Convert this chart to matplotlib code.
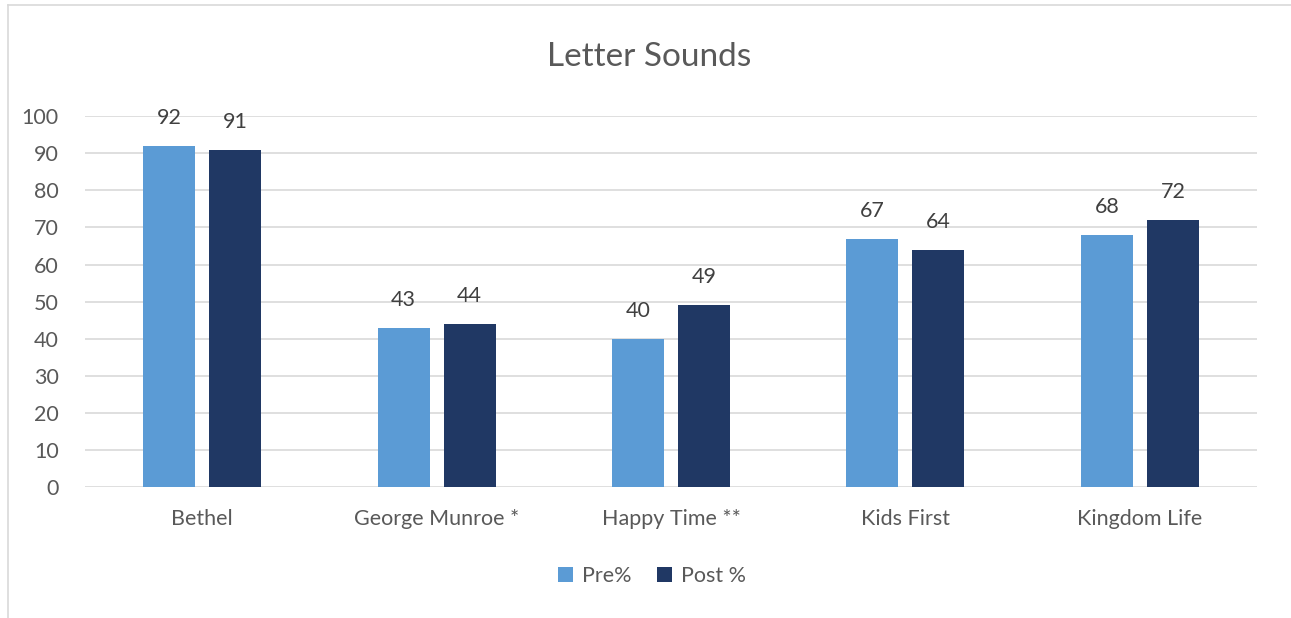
import numpy as np
import matplotlib.pyplot as plt
from matplotlib.lines import Line2D

# --- datos ---
escuelas = ['Bethel', 'George Munroe *', 'Happy Time **', 'Kids First', 'Kingdom Life']
pre = [92, 43, 40, 67, 68]
post = [91, 44, 49, 64, 72]
etiquetas = ['Pre%', 'Post %']

plt.rcParams['font.family'] = ['Lato', 'DejaVu Sans']
gris = '#595959'
c_pre = '#5B9BD5'
c_post = '#203864'

fig = plt.figure(figsize=(12.91, 6.18), dpi=100)
ax = fig.add_axes([0.0658, 0.212, 0.9079, 0.600])

x = np.arange(len(escuelas))
w = 0.222
off = 0.141
b1 = ax.bar(x - off, pre, w, color=c_pre, label=etiquetas[0], zorder=3)
b2 = ax.bar(x + off, post, w, color=c_post, label=etiquetas[1], zorder=3)

# etiquetas de datos sobre cada barra
for barras in (b1, b2):
    for b in barras:
        ax.text(b.get_x() + b.get_width() / 2, b.get_height() + 4.8, f'{int(b.get_height())}',
                ha='center', va='bottom', fontsize=15.5, color='#404040')

ax.set_xlim(-0.5, len(escuelas) - 0.5)
ax.set_ylim(0, 100)
ax.set_yticks(range(0, 101, 10))
ax.set_xticks(x)
ax.set_xticklabels(escuelas)
ax.tick_params(axis='both', length=0, labelsize=15.5, colors=gris)
ax.tick_params(axis='y', pad=19)
ax.tick_params(axis='x', pad=16)
ax.grid(axis='y', color='#D9D9D9', linewidth=1.2, zorder=0)
for s in ax.spines.values():
    s.set_visible(False)

fig.text(0.503, 0.908, 'Letter Sounds', ha='center', va='center', fontsize=24, color=gris)

leg = fig.legend(loc='center', bbox_to_anchor=(0.505, 0.068), ncol=2, frameon=False,
                 fontsize=15.5, handlelength=0.7, handleheight=0.7, columnspacing=1.2, handletextpad=0.4)
for t in leg.get_texts():
    t.set_color(gris)

# borde del gráfico
fig.add_artist(Line2D([0.0062, 0.0062], [0, 0.992], color='#D9D9D9', linewidth=1.2))
fig.add_artist(Line2D([0.0062, 1.0], [0.992, 0.992], color='#D9D9D9', linewidth=1.2))

fig.savefig('out.png', dpi=100)
